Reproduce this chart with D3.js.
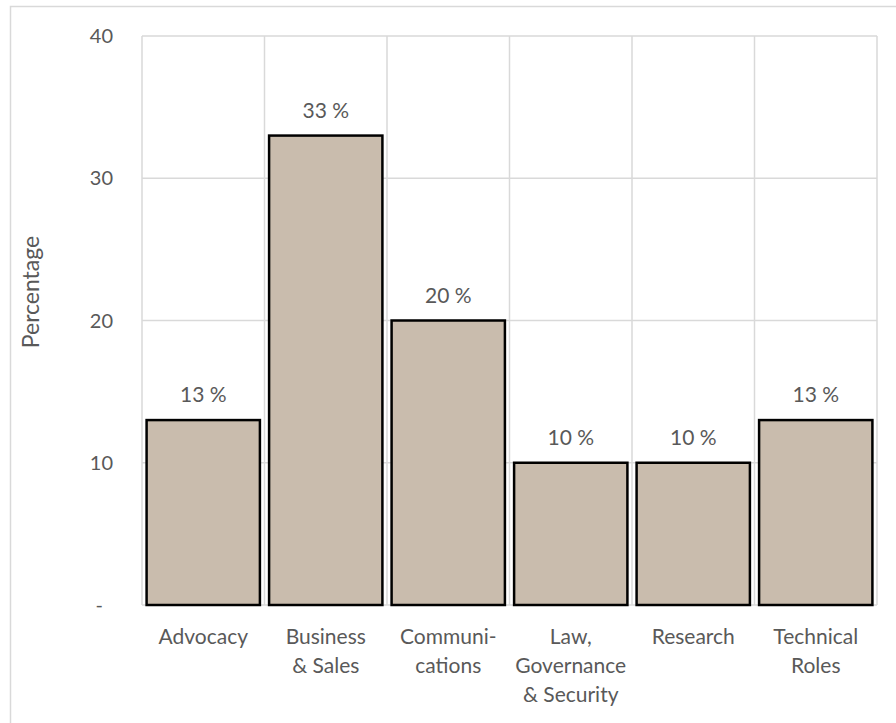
<!DOCTYPE html>
<html>
<head>
<meta charset="utf-8">
<script src="https://cdn.jsdelivr.net/npm/d3@7"></script>
<style>
  body { margin: 0; background: #fff; }
  text { font-family: Lato, "Open Sans", sans-serif; fill: #595959; }
</style>
</head>
<body>
<script>
var w = 896,
    h = 723;

var categories = ["Advocacy", "Business|& Sales", "Communi-|cations", "Law,|Governance|& Security", "Research", "Technical|Roles"];
var values = [13, 33, 20, 10, 10, 13];
var yTicks = [0, 10, 20, 30, 40];

var margin = { top: 36, right: 19, bottom: 118, left: 142 };
var width = w - margin.left - margin.right,
    height = h - margin.top - margin.bottom;

var x = d3.scaleBand()
    .domain(categories)
    .range([0, width])
    .paddingInner(0.075)
    .paddingOuter(0.0375);

var xGrid = d3.scaleBand()
    .domain(categories)
    .range([0, width]);

var y = d3.scaleLinear()
    .domain([0, 40])
    .range([height, 0]);

var svg = d3.select("body").append("svg")
    .attr("width", w)
    .attr("height", h);

// outer frame
svg.append("rect")
    .attr("x", 10.5)
    .attr("y", 6.5)
    .attr("width", w)
    .attr("height", h)
    .attr("fill", "none")
    .attr("stroke", "#d9d9d9")
    .attr("stroke-width", 1.5);

var chart = svg.append("g")
    .attr("transform", "translate(" + margin.left + "," + margin.top + ")");

// horizontal grid
chart.append("g")
    .selectAll("line")
    .data(yTicks)
    .enter().append("line")
    .attr("x1", 0)
    .attr("x2", width)
    .attr("y1", function(d) { return y(d); })
    .attr("y2", function(d) { return y(d); })
    .attr("stroke", "#d9d9d9")
    .attr("stroke-width", 1.5);

// vertical grid at category boundaries
var bounds = categories.map(function(c) { return xGrid(c); }).concat([width]);
chart.append("g")
    .selectAll("line")
    .data(bounds)
    .enter().append("line")
    .attr("x1", function(d) { return d; })
    .attr("x2", function(d) { return d; })
    .attr("y1", 0)
    .attr("y2", height)
    .attr("stroke", "#d9d9d9")
    .attr("stroke-width", 1.5);

// y tick labels
chart.append("g")
    .selectAll("text")
    .data(yTicks)
    .enter().append("text")
    .attr("x", function(d) { return d === 0 ? -39 : -29; })
    .attr("y", function(d) { return y(d); })
    .attr("dy", "0.35em")
    .attr("text-anchor", "end")
    .attr("font-size", 20)
    .text(function(d) { return d === 0 ? "-" : d; });

// y title
chart.append("text")
    .attr("transform", "rotate(-90)")
    .attr("x", -256)
    .attr("y", -103)
    .attr("text-anchor", "middle")
    .attr("font-size", 23)
    .text("Percentage");

// bars
chart.append("g")
    .selectAll("rect")
    .data(values)
    .enter().append("rect")
    .attr("x", function(d, i) { return x(categories[i]); })
    .attr("y", function(d) { return y(d); })
    .attr("width", x.bandwidth())
    .attr("height", function(d) { return height - y(d); })
    .attr("fill", "#c9bcad")
    .attr("stroke", "#000")
    .attr("stroke-width", 2.5);

// value labels
chart.append("g")
    .selectAll("text")
    .data(values)
    .enter().append("text")
    .attr("x", function(d, i) { return x(categories[i]) + x.bandwidth() / 2; })
    .attr("y", function(d) { return y(d) - 18; })
    .attr("text-anchor", "middle")
    .attr("font-size", 21)
    .text(function(d) { return d + " %"; });

// category labels
var cat = chart.append("g")
    .selectAll("text")
    .data(categories)
    .enter().append("text")
    .attr("x", function(d) { return xGrid(d) + xGrid.bandwidth() / 2; })
    .attr("y", height + 39)
    .attr("text-anchor", "middle")
    .attr("font-size", 21);

cat.selectAll("tspan")
    .data(function(d) { return d.split("|"); })
    .enter().append("tspan")
    .attr("x", function() { var p = this.parentNode.__data__; return xGrid(p) + xGrid.bandwidth() / 2; })
    .attr("dy", function(d, i) { return i === 0 ? 0 : 29; })
    .text(function(d) { return d; });
</script>
</body>
</html>
